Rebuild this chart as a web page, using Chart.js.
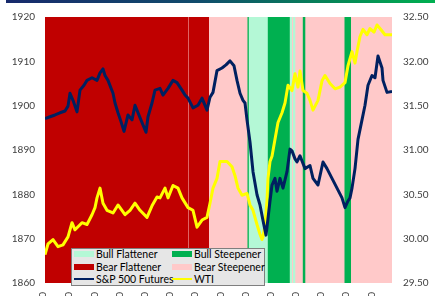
<!DOCTYPE html>
<html><head><meta charset="utf-8">
<script src="https://cdn.jsdelivr.net/npm/chart.js@4/dist/chart.umd.min.js"></script>
<style>
html,body{margin:0;padding:0;background:#fff;overflow:hidden;}
#wrap{position:relative;width:440px;height:300px;overflow:hidden;}
#bar{position:absolute;left:6px;top:0;width:429px;height:3px;background:linear-gradient(90deg,#172a6c 0%,#104c6c 45%,#068458 75%,#00b050 100%);}
canvas{position:absolute;left:0;top:0;}
#legend{position:absolute;left:71px;top:248px;width:192px;height:36px;background:#e6e6e6;border:1px solid #7f7f7f;font-family:Lato,"Liberation Sans",sans-serif;font-size:10.5px;color:#000;}
.item{position:absolute;height:12px;line-height:12px;white-space:nowrap;}
.sw{position:absolute;left:0;width:20px;}
.tx{position:absolute;left:22px;top:0;}
</style></head>
<body><div id="wrap"><div id="bar"></div><canvas id="c" width="440" height="300"></canvas><div id="legend"></div></div>
<script>
// ---- data ----
const regimeNames  = ['Bull Flattener','Bull Steepener','Bear Flattener','Bear Steepener'];
const regimeColors = ['#b4f8d6','#00b050','#c00000','#ffc9c9'];
// regime bands (time index start / end / regime number)
const bandStart  = [0,    142.5, 144,   163.5, 203,   204.3, 222.3, 245.3, 246.5, 248.5, 249.8, 258.3, 259.8, 300,   305.5];
const bandEnd    = [142.5,144,   163.5, 203,   204.3, 222.3, 245.3, 246.5, 248.5, 249.8, 258.3, 259.8, 300,   305.5, 347];
const bandRegime = [2,    3,     2,     3,     1,     0,     1,     0,     3,     0,     3,     1,     3,     1,     3];

// S&P 500 futures (left axis)
const spX = [0,5,10,15,20,23,25,28,32,35,39,42,47,52,55,58,60,63,68,70,73,76,79,83,87,90,95,101,103,107,110,115,118,123,128,132,137,140,143,148,153,157,162,165,168,172,177,181,185,189,192,195,198,200,202,205,208,212,215,218,221,222,225,227,230,232,235,238,242,245,247,250,252,255,260,265,268,273,278,282,287,292,297,300,303,305,307,310,313,317,320,323,327,330,333,337,338,342,347];
const spY = [1897.1,1897.5,1897.9,1898.4,1898.8,1899.9,1902.8,1901.2,1898.6,1903.5,
 1904.6,1905.7,1906.3,1905.7,1907.4,1908.3,1906.8,1905.7,1902.8,1900.6,
 1898.4,1896.4,1894.2,1897.9,1896.8,1900.1,1897.3,1894.0,1897.5,1900.6,
 1903.5,1903.9,1902.4,1903.9,1905.7,1905.2,1903.5,1902.4,1901.7,1899.5,
 1900.1,1901.7,1899.0,1901.9,1903.0,1907.9,1908.5,1909.2,1910.1,1909.0,
 1905.7,1902.8,1901.2,1900.6,1896.8,1891.8,1885.1,1879.9,1877.6,1874.1,
 1870.8,1872.6,1878.5,1882.1,1883.6,1880.7,1883.6,1881.4,1885.1,1890.2,
 1889.8,1888.0,1887.3,1888.7,1885.8,1886.5,1883.6,1882.1,1887.3,1885.8,
 1883.6,1881.4,1879.2,1877.0,1878.5,1879.2,1881.4,1885.8,1892.4,1896.8,
 1900.1,1904.6,1906.8,1906.3,1911.2,1908.5,1905.7,1903.0,1903.2];

// WTI (right axis)
const wtiX = [0,3,8,13,18,23,27,30,37,42,47,50,52,55,58,62,68,73,80,85,90,95,102,107,112,115,120,123,128,133,137,143,148,152,157,162,165,168,172,175,182,187,190,193,197,202,205,208,212,215,217,218,220,222,223,225,227,230,233,237,240,243,247,250,253,255,258,262,265,268,273,277,280,285,290,295,300,303,307,310,312,315,318,322,325,329,332,335,340,347];
const wtiY = [29.82,29.94,29.99,29.91,29.93,30.02,30.18,30.10,30.18,30.16,
 30.27,30.35,30.46,30.57,30.40,30.32,30.29,30.38,30.27,30.32,
 30.40,30.32,30.24,30.37,30.47,30.46,30.57,30.46,30.60,30.57,
 30.46,30.35,30.32,30.13,30.21,30.24,30.40,30.57,30.68,30.87,
 30.87,30.81,30.71,30.57,30.49,30.51,30.38,30.32,30.16,30.05,
 29.99,30.02,30.16,30.43,30.68,30.87,30.93,31.12,31.31,31.42,
 31.53,31.73,31.67,31.86,31.71,31.89,31.67,31.64,31.56,31.45,
 31.56,31.78,31.84,31.75,31.69,31.71,31.76,31.95,32.11,31.98,
 32.11,32.28,32.36,32.30,32.37,32.33,32.41,32.37,32.30,32.30];

// x-axis ticks (time index) and labels
const tickValues = [-2,24,50,75,100,125,150,176,201,226,251,276,301,327];
const tickLabels = ['8:00','8:30','9:00','9:30','10:00','10:30','11:00','11:30','12:00','12:30','13:00','13:30','14:00','14:30'];

const leftTicks  = {min:1860, max:1920, step:10};
const rightTicks = {min:29.5, max:32.5, step:0.5};

// ---- build ----
const FONT = {family:'Lato, "Liberation Sans", sans-serif', size:10};
const bandSets = regimeNames.map((name, r) => ({
  type:'bar', label:name, indexAxis:'y', xAxisID:'x', yAxisID:'yb',
  data: bandStart.map((s,i)=> bandRegime[i]===r ? {x:[s, bandEnd[i]], y:'band'} : null).filter(d=>d),
  backgroundColor: regimeColors[r], borderWidth:0, grouped:false,
  barPercentage:1, categoryPercentage:1, inflateAmount:0.5, order:5
}));
const spSet = {type:'line', label:'S&P 500 Futures', xAxisID:'x', yAxisID:'y',
  data: spX.map((x,i)=>({x, y:spY[i]})), borderColor:'#002060', borderWidth:3,
  pointRadius:0, tension:0, borderJoinStyle:'round', order:0};
const wtiSet = {type:'line', label:'WTI', xAxisID:'x', yAxisID:'y2',
  data: wtiX.map((x,i)=>({x, y:wtiY[i]})), borderColor:'#ffff00', borderWidth:3,
  pointRadius:0, tension:0, borderJoinStyle:'round', order:1};

const noGrid = {display:false, drawTicks:false, offset:false};
const chart = new Chart(document.getElementById('c'), {
  type:'bar',
  data:{datasets:[...bandSets, spSet, wtiSet]},
  options:{
    responsive:false, animation:false, devicePixelRatio:1,
    layout:{padding:{top:15,left:0,right:0,bottom:0}},
    plugins:{legend:{display:false}, tooltip:{enabled:false}},
    scales:{
      x:{type:'linear', offset:false, min:0, max:347, grid:noGrid, border:{display:false},
         afterBuildTicks:s=>{ s.ticks = tickValues.map(v=>({value:v})); },
         afterFit:s=>{ s.height = 13; },
         ticks:{autoSkip:false, maxRotation:90, minRotation:90, padding:9, font:FONT, color:'#404040',
                callback:(v,i)=>tickLabels[i]}},
      y:{type:'linear', position:'left', min:leftTicks.min, max:leftTicks.max, grid:noGrid, border:{display:false},
         afterFit:s=>{ s.width = 45; },
         ticks:{stepSize:leftTicks.step, padding:10, font:FONT, color:'#404040', callback:v=>String(v)}},
      y2:{type:'linear', position:'right', min:rightTicks.min, max:rightTicks.max, grid:noGrid, border:{display:false},
         afterFit:s=>{ s.width = 48; },
         ticks:{stepSize:rightTicks.step, padding:11, font:FONT, color:'#404040', callback:v=>v.toFixed(2)}},
      yb:{type:'category', axis:'y', labels:['band'], display:false, offset:true}
    }
  }
});

// ---- HTML legend built from datasets ----
const legendOrder = [0,1,2,3,4,5]; // Bull Flat, Bull Steep, Bear Flat, Bear Steep, S&P, WTI
const allSets = chart.data.datasets;
const leg = document.getElementById('legend');
legendOrder.forEach((di, k) => {
  const ds = allSets[di];
  const col = k % 2, row = Math.floor(k / 2);
  const cy = [5, 17.5, 30][row];
  const it = document.createElement('div');
  it.className = 'item';
  it.style.left = (col ? 100 : 2) + 'px';
  it.style.top = (cy - 6) + 'px';
  const sw = document.createElement('div');
  sw.className = 'sw';
  if (ds.type === 'line') { sw.style.top = '4.7px'; sw.style.height = '2.6px'; sw.style.background = ds.borderColor; }
  else { sw.style.top = '3px'; sw.style.height = '6px'; sw.style.background = ds.backgroundColor; }
  const tx = document.createElement('div');
  tx.className = 'tx'; tx.textContent = ds.label;
  it.appendChild(sw); it.appendChild(tx); leg.appendChild(it);
});
</script>
</body></html>
